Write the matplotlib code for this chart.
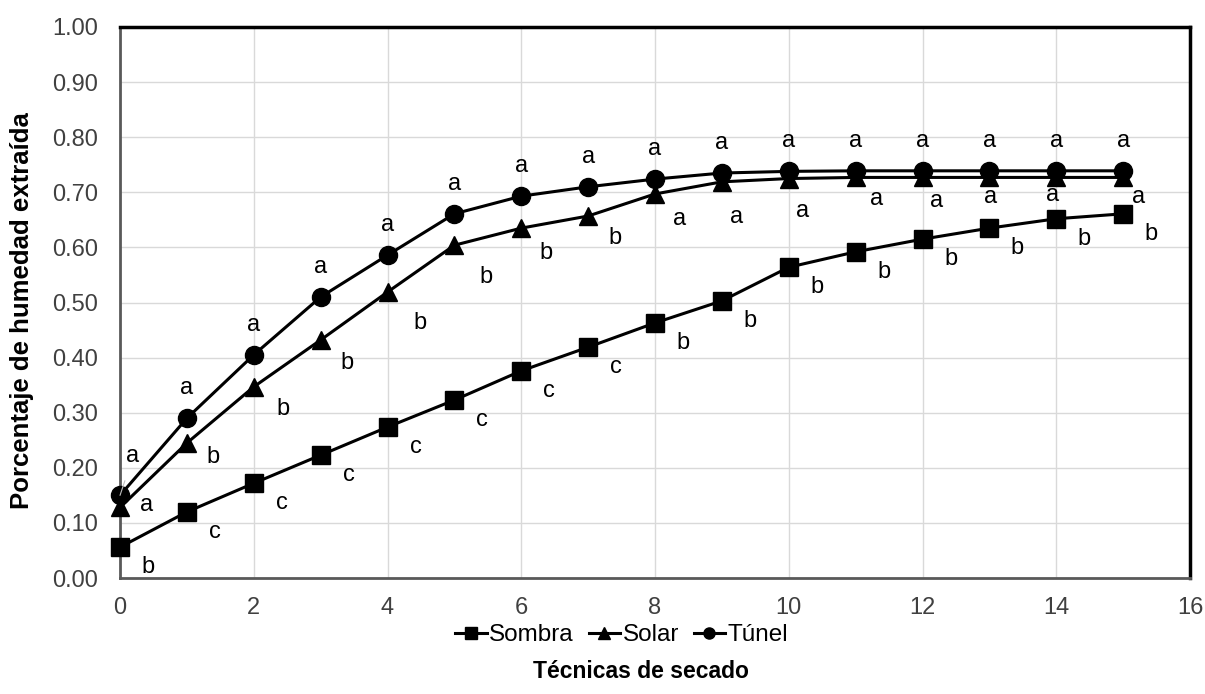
import numpy as np
import matplotlib.pyplot as plt
from matplotlib.lines import Line2D

plt.rcParams['font.family'] = ['Liberation Sans', 'DejaVu Sans']

# data
x = np.arange(0, 16)
sombra = [0.056, 0.120, 0.172, 0.223, 0.274, 0.323, 0.376, 0.419,
          0.463, 0.503, 0.564, 0.592, 0.615, 0.635, 0.652, 0.661]
solar = [0.128, 0.245, 0.347, 0.432, 0.519, 0.604, 0.635, 0.657,
         0.697, 0.719, 0.725, 0.727, 0.727, 0.727, 0.727, 0.727]
tunel = [0.150, 0.290, 0.405, 0.510, 0.586, 0.661, 0.693, 0.710,
         0.724, 0.735, 0.738, 0.739, 0.739, 0.739, 0.739, 0.739]

sombra_let = ['b', 'c', 'c', 'c', 'c', 'c', 'c', 'c',
              'b', 'b', 'b', 'b', 'b', 'b', 'b', 'b']
solar_let = ['a', 'b', 'b', 'b', 'b', 'b', 'b', 'b',
             'a', 'a', 'a', 'a', 'a', 'a', 'a', 'a']
tunel_let = ['a'] * 16

# label offsets in pixels (dx, dy downwards)
solar_off = [(27, -2), (26, 14), (29, 22), (26, 23), (32, 31), (32, 32),
             (25, 25), (27, 22), (25, 25), (15, 35), (14, 32), (21, 22),
             (14, 24), (1, 20), (-4, 18), (15, 20)]
sombra_off = (28, 20)
tunel_off = (0, -30)

fig = plt.figure(figsize=(12.05, 6.94), dpi=100)
ax = fig.add_axes([0.0996, 0.1671, 0.888, 0.794])

lw = 2.2
ax.plot(x, sombra, '-s', color='black', lw=lw, ms=12.5, clip_on=False, zorder=3)
ax.plot(x, solar, '-^', color='black', lw=lw, ms=13.5, clip_on=False, zorder=3)
ax.plot(x, tunel, '-o', color='black', lw=lw, ms=13, clip_on=False, zorder=3)

fs = 17
for i in range(len(x)):
    ax.annotate(sombra_let[i], (x[i], sombra[i]), xytext=(sombra_off[0], -sombra_off[1]),
                textcoords='offset pixels', ha='center', va='center', fontsize=fs)
    ax.annotate(solar_let[i], (x[i], solar[i]), xytext=(solar_off[i][0], -solar_off[i][1]),
                textcoords='offset pixels', ha='center', va='center', fontsize=fs)
    if i == 0:
        ax.annotate(tunel_let[i], (x[i], tunel[i]), xytext=(13, 39),
                    textcoords='offset pixels', ha='center', va='center', fontsize=fs,
                    arrowprops=dict(arrowstyle='-', color='#bfbfbf', lw=0.8,
                                    shrinkA=8, shrinkB=0))
    else:
        ax.annotate(tunel_let[i], (x[i], tunel[i]), xytext=(tunel_off[0], -tunel_off[1]),
                    textcoords='offset pixels', ha='center', va='center', fontsize=fs)

ax.set_xlim(0, 16)
ax.set_ylim(0, 1.0)
ax.set_xticks(np.arange(0, 17, 2))
ax.set_yticks(np.arange(0, 1.01, 0.1))
ax.set_yticklabels(['%.2f' % v for v in np.arange(0, 1.01, 0.1)])
ax.tick_params(length=0, labelsize=17, labelcolor='#404040')
ax.tick_params(axis='y', pad=16)
ax.tick_params(axis='x', pad=14)
ax.grid(True, color='#d9d9d9', lw=1)
ax.set_axisbelow(True)

for s in ['top', 'right']:
    ax.spines[s].set_color('black')
    ax.spines[s].set_linewidth(2.5)
for s in ['left', 'bottom']:
    ax.spines[s].set_color('#595959')
    ax.spines[s].set_linewidth(2)

ax.set_ylabel('Porcentaje de humedad extraída', fontsize=18.5, fontweight='bold', labelpad=8)
ax.yaxis.set_label_coords(-0.08, 0.485)

handles = [Line2D([], [], color='black', lw=lw, marker='s', ms=8),
           Line2D([], [], color='black', lw=lw, marker='^', ms=8),
           Line2D([], [], color='black', lw=lw, marker='o', ms=8)]
fig.legend(handles, ['Sombra', 'Solar', 'Túnel'], loc='center', bbox_to_anchor=(0.516, 0.085),
           ncol=3, frameon=False, fontsize=17.5, handlelength=1.3, handletextpad=0.1,
           columnspacing=0.6)
fig.text(0.532, 0.032, 'Técnicas de secado', ha='center', va='center',
         fontsize=16.5, fontweight='bold')

fig.savefig('out.png', dpi=100)
